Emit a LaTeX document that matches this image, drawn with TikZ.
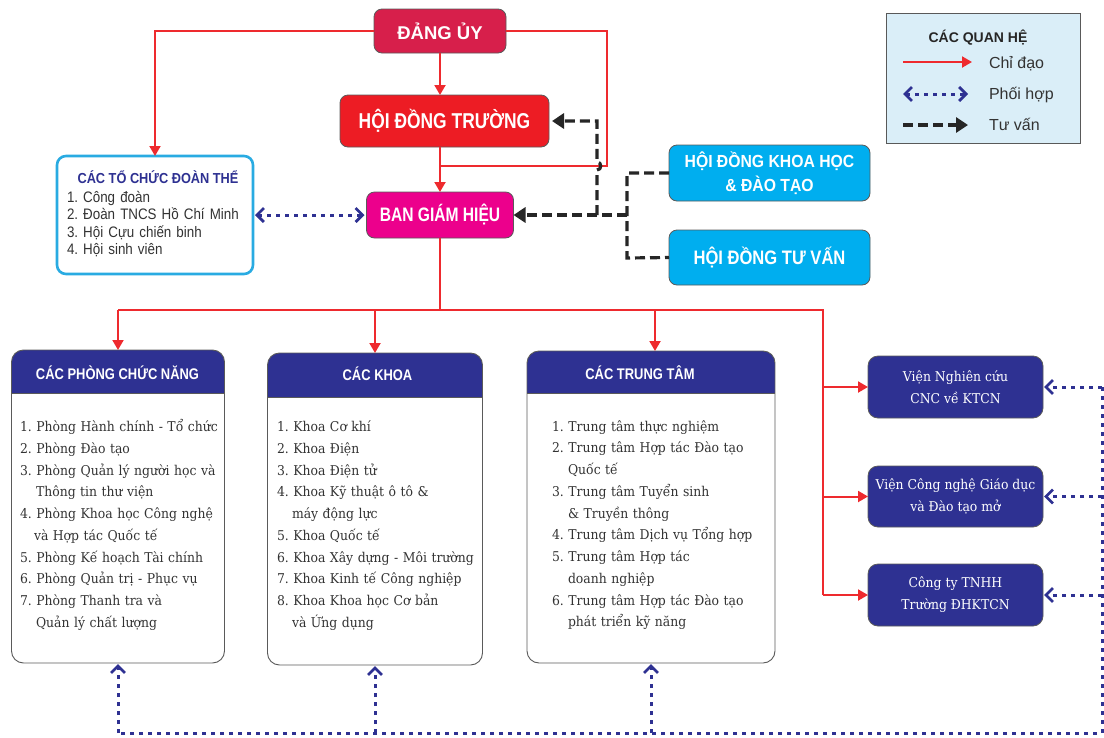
\documentclass[tikz,border=0pt]{standalone}
\usepackage{fontspec}
\usepackage{graphicx}
\setmainfont{Liberation Sans}
\newfontfamily\fslab[FakeStretch=0.92]{DejaVu Serif}
\newfontfamily\fcond[FakeStretch=0.88]{Liberation Sans}
\usetikzlibrary{arrows.meta,calc}
\definecolor{crim}{HTML}{D71F4B}
\definecolor{hred}{HTML}{ED1C24}
\definecolor{mag}{HTML}{EC008C}
\definecolor{cyanb}{HTML}{00AEEF}
\definecolor{navy}{HTML}{2E3192}
\definecolor{lnred}{HTML}{EE2A2E}
\definecolor{legbg}{HTML}{DAEEF8}
\definecolor{bord}{HTML}{5A5A5A}
\definecolor{cybord}{HTML}{29ABE2}
\definecolor{txt}{HTML}{333333}
\frenchspacing
\newcommand{\hx}[2]{\scalebox{#1}[1]{#2}}
\newcommand{\bigpanel}[2]{%
  \fill[white, rounded corners=12pt] (#1.north west) rectangle (#1.south east);
  \begin{scope}
    \clip[rounded corners=12pt] (#1.north west) rectangle (#1.south east);
    \fill[navy] (#1.north west) rectangle ($(#1.north east)+(0,#2)$);
  \end{scope}
  \draw[bord, line width=0.9pt, rounded corners=12pt] (#1.north west) rectangle (#1.south east);
  \draw[bord, line width=0.6pt] ($(#1.north west)+(0,#2)$) -- ($(#1.north east)+(0,#2)$);}
\begin{document}
\begin{tikzpicture}[x=1pt,y=-1pt,
  every node/.style={inner sep=0pt, outer sep=0pt},
  topbox/.style={draw=bord, line width=0.8pt, rounded corners=8pt, text=white, align=center},
  instbox/.style={draw=bord, line width=0.8pt, rounded corners=10pt, fill=navy, text=white, align=center,
     minimum width=175pt, font=\fslab\frenchspacing\fontsize{13.5}{22}\selectfont},
  paneltitle/.style={anchor=base, text=white, font=\bfseries\fontsize{15.4}{18}\selectfont},
  panellist/.style={anchor=base west, text width=#1, align=left, text=txt,
     font=\fslab\frenchspacing\fontsize{13.5}{21.75}\selectfont},
  redln/.style={draw=lnred, line width=2pt},
  redarr/.style={redln, -{Triangle[length=10pt,width=11pt]}},
  blueln/.style={draw=navy, line width=3pt, dash pattern=on 4pt off 5pt},
  barb/.tip={Straight Barb[length=7pt,width=14pt,line width=2.8pt]},
  bluearr/.style={blueln, -barb, shorten >=1pt},
  blackln/.style={draw=black!85, line width=3.2pt, dash pattern=on 10pt off 5pt},
  blackarr/.style={blackln, -{Triangle[length=12pt,width=15pt]}},
  legtext/.style={anchor=base west, text=txt, font=\fontsize{16}{18}\selectfont}
]
\useasboundingbox (0,0) rectangle (1104,737);

% ---------- top boxes ----------
\node[topbox, fill=crim, minimum width=132pt, minimum height=44pt,
      font=\bfseries\fontsize{18.5}{20}\selectfont] (dang) at (440,31) {ĐẢNG ỦY};
\node[topbox, fill=hred, minimum width=209pt, minimum height=52pt,
      font=\bfseries\fontsize{21.5}{24}\selectfont] (hdt) at (444.5,121) {\hx{0.81}{HỘI ĐỒNG TRƯỜNG}};
\node[topbox, fill=mag, minimum width=147pt, minimum height=46pt,
      font=\bfseries\fontsize{19.5}{22}\selectfont] (bgh) at (440,215) {\hx{0.8}{BAN GIÁM HIỆU}};
\node[topbox, fill=cyanb, minimum width=201pt, minimum height=56pt,
      font=\bfseries\fontsize{17.5}{24}\selectfont] (hdkh) at (769.5,173) {\hx{0.9}{HỘI ĐỒNG KHOA HỌC}\\\hx{0.9}{\& ĐÀO TẠO}};
\node[topbox, fill=cyanb, minimum width=201pt, minimum height=55pt,
      font=\bfseries\fontsize{19.5}{22}\selectfont] (hdtv) at (769.5,257.5) {\hx{0.85}{HỘI ĐỒNG TƯ VẤN}};

% ---------- left box ----------
\node[draw=cybord, line width=2.6pt, fill=white, rounded corners=9pt,
      minimum width=196pt, minimum height=118pt] (doan) at (155,215) {};
\node[anchor=base, text=navy, font=\bfseries\fontsize{14.5}{16}\selectfont] (doanT) at (158,183.3)
      {\hx{0.88}{CÁC TỔ CHỨC ĐOÀN THỂ}};
\node[anchor=base west, text width=185pt, align=left, text=txt, font=\fcond\frenchspacing\fontsize{15.2}{17.2}\selectfont]
      (doanL) at (67,202.7)
      {1. Công đoàn\\2. Đoàn TNCS Hồ Chí Minh\\3. Hội Cựu chiến binh\\4. Hội sinh viên};

% ---------- legend ----------
\node[draw=gray!70!black, fill=legbg, line width=0.8pt, minimum width=194pt, minimum height=130pt] (leg) at (983,78) {};
\node[anchor=base, text=black!85, font=\bfseries\fontsize{14}{16}\selectfont] (legT) at (978,42) {CÁC QUAN HỆ};
\coordinate (l1a) at (903,62); \coordinate (l1b) at (972,62);
\coordinate (l2a) at (903,94); \coordinate (l2b) at (968,94);
\coordinate (l3a) at (903,125); \coordinate (l3b) at (968,125);
\draw[redarr] (l1a) -- (l1b);
\draw[blueln, barb-barb] (l2a) -- (l2b);
\draw[blackarr] (l3a) -- (l3b);
\node[legtext] (leg1) at (989,68) {Chỉ đạo};
\node[legtext] (leg2) at (989,99.5) {Phối hợp};
\node[legtext] (leg3) at (989,130) {Tư vấn};

% ---------- panels ----------
\node[minimum width=213pt, minimum height=313pt] (phong) at (118,506.5) {};
\bigpanel{phong}{43}
\node[paneltitle] (phongT) at (117.5,379.3) {\hx{0.84}{CÁC PHÒNG CHỨC NĂNG}};
\node[panellist=205pt] (phongL) at (20,431.5)
  {1. Phòng Hành chính - Tổ chức\\
   2. Phòng Đào tạo\\
   3. Phòng Quản lý người học và\\
   \hspace*{16pt}Thông tin thư viện\\
   4. Phòng Khoa học Công nghệ\\
   \hspace*{14pt}và Hợp tác Quốc tế\\
   5. Phòng Kế hoạch Tài chính\\
   6. Phòng Quản trị - Phục vụ\\
   7. Phòng Thanh tra và\\
   \hspace*{16pt}Quản lý chất lượng};

\node[minimum width=215pt, minimum height=312pt] (khoa) at (375,509) {};
\bigpanel{khoa}{44}
\node[paneltitle] (khoaT) at (377.5,380) {\hx{0.84}{CÁC KHOA}};
\node[panellist=205pt] (khoaL) at (277,431.5)
  {1. Khoa Cơ khí\\
   2. Khoa Điện\\
   3. Khoa Điện tử\\
   4. Khoa Kỹ thuật ô tô \&\\
   \hspace*{15pt}máy động lực\\
   5. Khoa Quốc tế\\
   6. Khoa Xây dựng - Môi trường\\
   7. Khoa Kinh tế Công nghiệp\\
   8. Khoa Khoa học Cơ bản\\
   \hspace*{15pt}và Ứng dụng};

\node[minimum width=248pt, minimum height=312pt] (tt) at (651,507) {};
\bigpanel{tt}{42}
\node[paneltitle] (ttT) at (640,379.3) {\hx{0.84}{CÁC TRUNG TÂM}};
\node[panellist=220pt] (ttL) at (552,431)
  {1. Trung tâm thực nghiệm\\
   2. Trung tâm Hợp tác Đào tạo\\
   \hspace*{16pt}Quốc tế\\
   3. Trung tâm Tuyển sinh\\
   \hspace*{16pt}\& Truyền thông\\
   4. Trung tâm Dịch vụ Tổng hợp\\
   5. Trung tâm Hợp tác\\
   \hspace*{16pt}doanh nghiệp\\
   6. Trung tâm Hợp tác Đào tạo\\
   \hspace*{16pt}phát triển kỹ năng};

% ---------- institutes ----------
\node[instbox, minimum height=62pt] (vien1) at (955.5,387) {Viện Nghiên cứu\\CNC về KTCN};
\node[instbox, minimum height=61pt] (vien2) at (955.5,496.5) {Viện Công nghệ Giáo dục\\và Đào tạo mở};
\node[instbox, minimum height=62pt] (cty) at (955.5,595) {Công ty TNHH\\Trường ĐHKTCN};

% ---------- red connectors ----------
\coordinate (dL) at (155,31);
\coordinate (dR) at (607,31);
\coordinate (dR2) at (607,166);
\coordinate (dJ) at (440,166);
\draw[redarr] (dang.west) -- (dL) -- (doan.north);
\draw[redarr] (dang.south) -- (dang.south |- hdt.north);
\draw[redarr] (dang.south |- hdt.south) -- (bgh.north);
\draw[redln] (dang.east) -- (dR) -- (dR2) -- (dJ);

\coordinate (bus) at (440,310);
\coordinate (bL) at (118,310);
\coordinate (bK) at (375,310);
\coordinate (bT) at (655,310);
\coordinate (bR) at (823,310);
\coordinate (r1) at (823,387);
\coordinate (r2) at (823,496.5);
\coordinate (r3) at (823,595);
\draw[redln] (bgh.south) -- (bus);
\draw[redln] (bL) -- (bR) -- (r3);
\draw[redarr] (bL) -- (phong.north);
\draw[redarr] (bK) -- (khoa.north);
\draw[redarr] (bT) -- (bT |- tt.north);
\draw[redarr] (r1) -- (vien1.west);
\draw[redarr] (r2) -- (vien2.west);
\draw[redarr] (r3) -- (cty.west);

% ---------- black dashed ----------
\coordinate (k1) at (627,173);
\coordinate (k2) at (627,258);
\coordinate (kJ) at (627,215);
\coordinate (kV) at (597,215);
\coordinate (kH1) at (597,170);
\coordinate (kH2) at (597,162);
\coordinate (kT) at (597,121);
\draw[blackln] (hdkh.west) -- (k1) -- (k2) -- (hdtv.west);
\draw[blackarr] (kJ) -- (bgh.east);
\draw[blackarr] (kV) -- (kH1) to[out=0,in=0,looseness=1.6] (kH2) -- (kT) -- ([xshift=3pt]hdt.east);

% ---------- blue dashed ----------
\draw[blueln, barb-barb, shorten <=2pt, shorten >=2pt] (doan.east) -- (bgh.west);
\coordinate (q1) at (1102,387);
\coordinate (q2) at (1102,496.5);
\coordinate (q3) at (1102,595);
\coordinate (qB) at (1102,733);
\coordinate (pB) at (118,733);
\coordinate (kB) at (375,733);
\coordinate (tB) at (651,733);
\draw[blueln] (q1) -- (qB) -- (pB);
\draw[bluearr] (q1) -- (vien1.east);
\draw[bluearr] (q2) -- (vien2.east);
\draw[bluearr] (q3) -- (cty.east);
\draw[bluearr] (pB) -- (phong.south);
\draw[bluearr] (kB) -- (khoa.south);
\draw[bluearr] (tB) -- (tt.south);
\end{tikzpicture}
\end{document}
